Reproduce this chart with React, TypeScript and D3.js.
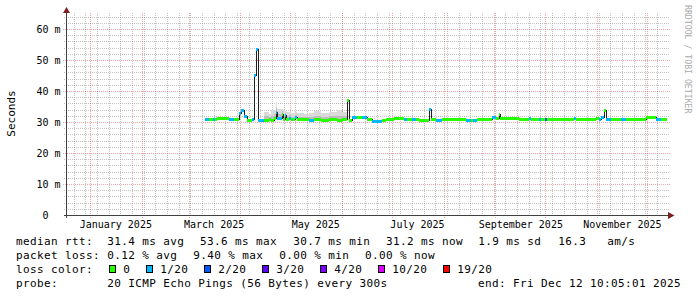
import React from 'react';
import * as d3 from 'd3';

// ---- data ----
const graphStart = new Date(2024, 11, 17, 10, 5, 1);
const graphEnd = new Date(2025, 11, 12, 10, 5, 1);

// day offset from 2025-01-01 at which each median reading begins
const sampleDay = [
  69.1, 71.5, 73.9, 75.1, 76.3, 79.9, 83.5, 86.5, 89.5, 90.7,
  92.5, 94.3, 97.3, 98.5, 99.7, 100.9, 104.5, 107.5, 108.7, 110.5,
  111.4, 112.3, 115.3, 115.9, 117.1, 117.7, 119.5, 120.7, 123.1, 124.3,
  128.5, 131.5, 134.5, 138.7, 143.5, 148.3, 151.3, 154.1, 155.5, 157.3,
  160.3, 163.3, 166.3, 169.3, 175.3, 177.7, 182.5, 188.5, 190.3, 193.3,
  195.7, 197.5, 203.5, 204.7, 207.7, 211.3, 218.5, 225.7, 228.7, 229.9,
  232.3, 241.3, 243.7, 245.5, 246.1, 251.5, 257.5, 263.5, 264.7, 269.5,
  270.7, 273.1, 274.3, 281.5, 290.5, 291.4, 296.5, 303.7, 305.5, 306.7,
  308.5, 309.7, 312.7, 318.7, 321.7, 327.7, 333.7, 339.7, 342.7,
];
// median rtt in ms
const medianMs = [
  31.1, 31.2, 31.0, 31.2, 31.5, 31.4, 31.2, 31.1, 33.0, 34.0,
  32.0, 30.8, 31.0, 45.2, 53.6, 30.9, 30.9, 31.0, 30.9, 31.5,
  33.3, 31.5, 32.8, 31.2, 32.3, 31.0, 31.6, 31.0, 31.8, 31.0,
  31.2, 30.9, 31.0, 30.8, 31.0, 30.9, 31.1, 37.3, 30.8, 31.7,
  31.7, 31.7, 31.0, 30.6, 30.9, 31.2, 31.3, 31.2, 31.2, 31.1,
  31.2, 30.7, 34.2, 31.2, 30.9, 31.0, 31.2, 30.7, 30.8, 30.7,
  31.0, 31.8, 31.5, 32.8, 31.3, 31.4, 31.2, 31.3, 31.2, 31.1,
  31.2, 31.1, 31.2, 31.1, 31.6, 31.2, 31.2, 31.5, 31.2, 31.8,
  34.1, 31.0, 31.0, 31.0, 31.1, 31.2, 31.7, 31.0, 31.2,
];
// loss colour index (0 = no loss, 1 = 1/20, 2 = 2/20 ...)
const lossIndex = [
  1, 0, 1, 0, 0, 0, 1, 0, 1, 1,
  1, 0, 1, 1, 1, 1, 0, 0, 0, 0,
  1, 1, 0, 0, 1, 0, 1, 0, 1, 0,
  0, 1, 0, 0, 0, 0, 0, 0, 0, 1,
  0, 1, 0, 1, 0, 0, 0, 1, 0, 1,
  0, 0, 1, 0, 1, 0, 0, 1, 0, 1,
  0, 1, 0, 0, 0, 0, 0, 1, 0, 1,
  0, 2, 0, 0, 1, 0, 0, 0, 1, 1,
  0, 1, 0, 1, 0, 0, 0, 1, 0,
];
// top of the smoke (ms), 0 = no visible smoke
const smokeTopMs = [
  0, 0, 0, 0, 0, 0, 0, 0, 0, 0,
  0, 0, 0, 0, 0, 0, 33.3, 32.6, 33.9, 34.0,
  36.5, 34.5, 34.5, 34.0, 33.8, 33.3, 33.3, 33.0, 33.3, 33.0,
  32.8, 33.0, 33.6, 33.0, 33.4, 33.9, 33.3, 0, 0, 0,
  0, 0, 0, 0, 0, 0, 0, 0, 0, 0,
  0, 0, 0, 0, 0, 0, 0, 0, 0, 0,
  0, 0, 0, 0, 0, 0, 0, 0, 0, 0,
  0, 0, 0, 0, 0, 0, 0, 0, 0, 0,
  0, 0, 0, 0, 0, 0, 0, 0, 0,
];

const lossColors = ['#26ff00', '#00b8ff', '#0059ff', '#5e00ff', '#7e00ff', '#dd00ff', '#ff0000'];
const lossLabels = ['0', '1/20', '2/20', '3/20', '4/20', '10/20', '19/20'];
const yMajorTicks = [0, 10, 20, 30, 40, 50, 60];
const labelMonths = [0, 2, 4, 6, 8, 10];
const statsRow1 = [
  ['median rtt:', 16], ['31.4 ms avg', 107.3], ['53.6 ms max', 200], ['30.7 ms min', 293.3],
  ['31.2 ms now', 386], ['1.9 ms sd', 478.3], ['16.3   am/s', 558.3],
] as [string, number][];
const statsRow2 = [
  ['packet loss:', 16], ['0.12 % avg', 107.3], ['9.40 % max', 193.3], ['0.00 % min', 279.3], ['0.00 % now', 365],
] as [string, number][];
const probeText = '20 ICMP Echo Pings (56 Bytes) every 300s';
const endText = 'end: Fri Dec 12 10:05:01 2025';

const W = 697;
const H = 297;
const FONT = "'DejaVu Sans Mono', monospace";

const dayToDate = (d: number) => new Date(new Date(2025, 0, 1).getTime() + d * 86400000);

export default function App() {
  const x = d3.scaleTime().domain([graphStart, graphEnd]).range([66.5, 666.5]);
  const y = d3.scaleLinear().domain([0, 64.5]).range([215.5, 15.5]);
  const sx = (d: Date) => Math.round(x(d) - 0.5);
  const sy = (v: number) => Math.floor(y(v)) + 0.5;

  // grid
  const minorY = d3.range(2, 65, 2).filter((v) => v % 10 !== 0);
  const majorY = [10, 20, 30, 40, 50, 60];
  const weeks = d3.timeSunday.range(graphStart, graphEnd);
  const months = d3.timeMonth.range(graphStart, graphEnd);

  // segments
  const endX = sx(graphEnd) + 1;
  const segs = sampleDay.map((d, i) => {
    const x0 = sx(dayToDate(d));
    const x1 = i < sampleDay.length - 1 ? sx(dayToDate(sampleDay[i + 1])) : endX;
    return { x0, x1, m: medianMs[i], l: lossIndex[i], s: smokeTopMs[i] };
  });
  const linePts: [number, number][] = segs.map((s) => [s.x0 + 0.5, Math.round(y(s.m)) + 0.5]);
  linePts.push([endX - 0.5, linePts[linePts.length - 1][1]]);
  const linePath = d3.line().curve(d3.curveStepAfter)(linePts) || '';

  // loss legend layout
  let cursor = 108.7;
  const lossItems = lossLabels.map((lab, i) => {
    const bx = cursor;
    const tx = cursor + 14.6;
    cursor = tx + lab.length * 7 + 15.4;
    return { bx, tx, lab, c: lossColors[i] };
  });

  const textStyle: React.CSSProperties = { whiteSpace: 'pre', letterSpacing: '0.38px' };

  return (
    <svg width={W} height={H} style={{ position: 'absolute', left: 0, top: 0 }} xmlns="http://www.w3.org/2000/svg">
      <rect x={0} y={0} width={W} height={H} fill="#ffffff" />

      {/* minor grid */}
      <g stroke="rgba(143,143,143,0.55)" strokeWidth={1} strokeDasharray="1,1" shapeRendering="crispEdges">
        {minorY.map((v) => (
          <line key={'hy' + v} x1={64} x2={669} y1={sy(v)} y2={sy(v)} />
        ))}
        {weeks.map((w) => (
          <line key={'wx' + w.getTime()} x1={sx(w) + 0.5} x2={sx(w) + 0.5} y1={13} y2={216} />
        ))}
      </g>
      {/* major grid */}
      <g stroke="rgba(222,79,79,0.5)" strokeWidth={1} strokeDasharray="1,1" shapeRendering="crispEdges">
        {majorY.map((v) => (
          <line key={'my' + v} x1={63} x2={670} y1={sy(v)} y2={sy(v)} />
        ))}
        {months.map((m) => (
          <line key={'mx' + m.getTime()} x1={sx(m) + 0.5} x2={sx(m) + 0.5} y1={13} y2={218} />
        ))}
      </g>

      {/* smoke */}
      <g shapeRendering="crispEdges">
        {segs.filter((s) => s.s > 0).map((s, i) => (
          <g key={'sm' + i}>
            <rect x={s.x0} width={s.x1 - s.x0} y={y(s.s)} height={y(s.m - 0.6) - y(s.s)} fill="#dadada" />
            <rect x={s.x0} width={s.x1 - s.x0} y={y(s.m + (s.s - s.m) * 0.45)} height={y(s.m) - y(s.m + (s.s - s.m) * 0.45)} fill="#bdbdbd" />
          </g>
        ))}
      </g>

      {/* median line */}
      <path d={linePath} fill="none" stroke="#202020" strokeWidth={1} shapeRendering="crispEdges" />
      <g shapeRendering="crispEdges">
        {segs.map((s, i) => (
          <rect key={'b' + i} x={s.x0} width={s.x1 - s.x0} y={Math.round(y(s.m)) - 1} height={3} fill={lossColors[s.l]} />
        ))}
      </g>

      {/* axes */}
      <g stroke="#404040" strokeWidth={1} shapeRendering="crispEdges">
        <line x1={64} x2={668} y1={215.5} y2={215.5} />
        <line x1={66.5} x2={66.5} y1={218} y2={12} />
      </g>
      <polygon points="668,212 674.5,215.5 668,219" fill="#7f1f1f" />
      <polygon points="63,13 66.5,7 70,13" fill="#7f1f1f" />

      {/* y tick labels */}
      <g fontFamily={FONT} fontSize={10} fill="#000">
        {yMajorTicks.map((v) => (
          <text key={'yl' + v} x={v === 0 ? 48.5 : 60.5} y={sy(v) + 3} textAnchor="end">
            {v === 0 ? '0' : `${v} m`}
          </text>
        ))}
        {labelMonths.map((m) => {
          const d = new Date(2025, m, 16);
          return (
            <text key={'xl' + m} x={x(d)} y={228} textAnchor="middle">
              {d3.timeFormat('%B %Y')(new Date(2025, m, 1))}
            </text>
          );
        })}
      </g>

      {/* axis title */}
      <text transform="translate(15,113.5) rotate(-90)" textAnchor="middle" fontFamily={FONT} fontSize={11} fill="#000">
        Seconds
      </text>

      {/* watermark */}
      <text transform="translate(685,5) rotate(90)" fontFamily={FONT} fontSize={8.2} fill="#aaaaaa">
        RRDTOOL / TOBI OETIKER
      </text>

      {/* legend */}
      <g fontFamily={FONT} fontSize={11} fill="#000">
        {statsRow1.map(([t, px]) => (
          <text key={'r1' + px} x={px} y={245} style={textStyle}>{t}</text>
        ))}
        {statsRow2.map(([t, px]) => (
          <text key={'r2' + px} x={px} y={259} style={textStyle}>{t}</text>
        ))}
        <text x={16} y={273} style={textStyle}>loss color:</text>
        {lossItems.map((it) => (
          <g key={'li' + it.lab}>
            <rect x={Math.round(it.bx) + 0.5} y={265.5} width={6} height={7} fill={it.c} stroke="#000" strokeWidth={1} />
            <text x={it.tx} y={273} style={textStyle}>{it.lab}</text>
          </g>
        ))}
        <text x={16} y={287} style={textStyle}>probe:</text>
        <text x={107.3} y={287} style={textStyle}>{probeText}</text>
        <text x={478} y={287} style={textStyle}>{endText}</text>
      </g>
    </svg>
  );
}
